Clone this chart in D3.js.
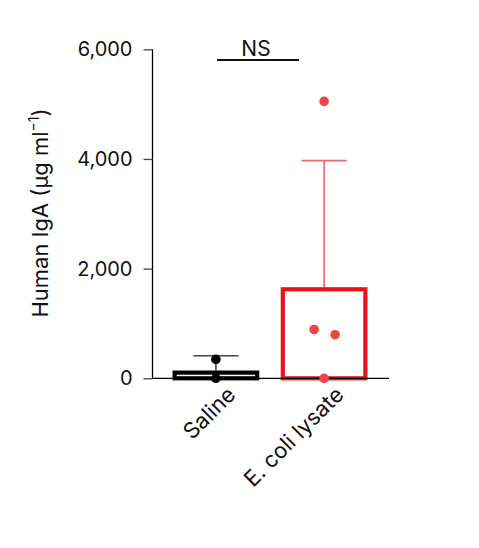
<!DOCTYPE html>
<html>
<head>
<meta charset="utf-8">
<script src="https://cdn.jsdelivr.net/npm/d3@7"></script>
<style>
  body { margin: 0; background: #fff; }
  text { font-family: Inter, "Noto Sans", sans-serif; }
</style>
</head>
<body>
<div id="chart"></div>
<script>
// chart values
const groups = ["Saline", "E. coli lysate"];
const means = [140, 1660];
const errTops = [410, 3970];
const points = [[345, 0], [5050, 890, 795, 0]];
const jitter = [[0, 0], [0, -10, 11, 0]];   // horizontal spread of dots (px)
const colors = ["#000000", "#e8141a"];
const dotColors = ["#000000", "#ee4448"];
const errColors = ["#444444", "#e46a6e"];
const yTicks = [0, 2000, 4000, 6000];

const W = 479, H = 548;
const svg = d3.select("#chart").append("svg")
    .attr("width", W).attr("height", H);

const x = d3.scaleBand()
    .domain(groups)
    .range([151, 389])
    .paddingInner(0.2)
    .paddingOuter(0.2);

const y = d3.scaleLinear()
    .domain([0, 6000])
    .range([378.3, 49.3]);

// y-axis
const yAxis = svg.append("g")
    .attr("transform", "translate(152.5,0)")
    .call(d3.axisLeft(y).tickValues(yTicks).tickSize(9).tickFormat(d3.format(",")));
yAxis.select(".domain").attr("stroke-width", 1.3).attr("d", `M0,${y(6000)}V${y(0)}`);
yAxis.selectAll(".tick line").attr("stroke-width", 1.3).attr("stroke", "#444");
yAxis.selectAll(".tick text").attr("x", -20).style("font-size", "20px").attr("fill", "#111");

// error bars (drawn first so bars sit on top)
groups.forEach((g, i) => {
    const cx = x(g) + x.bandwidth() / 2;
    svg.append("line")
        .attr("x1", cx).attr("x2", cx)
        .attr("y1", y(means[i])).attr("y2", y(errTops[i]))
        .attr("stroke", errColors[i]).attr("stroke-width", 1.6);
    svg.append("line")
        .attr("x1", cx - 22.5).attr("x2", cx + 22.5)
        .attr("y1", y(errTops[i])).attr("y2", y(errTops[i]))
        .attr("stroke", errColors[i]).attr("stroke-width", 1.6);
});

// bars
svg.selectAll("rect.bar")
    .data(groups)
    .enter()
    .append("rect")
    .attr("class", "bar")
    .attr("x", d => x(d) + 2)
    .attr("width", x.bandwidth() - 4)
    .attr("y", (d, i) => y(means[i]) + 2)
    .attr("height", (d, i) => y(0) - y(means[i]) - 2)
    .attr("fill", "none")
    .attr("stroke", (d, i) => colors[i])
    .attr("stroke-width", 4.2);

// x-axis
const xAxis = svg.append("g")
    .attr("transform", `translate(0,${y(0)})`)
    .call(d3.axisBottom(x).tickSize(5).tickSizeOuter(0));
xAxis.select(".domain").attr("stroke-width", 1.3).attr("d", "M152,0H389");
xAxis.selectAll(".tick line").attr("stroke", "#666");
xAxis.selectAll(".tick text")
    .style("font-size", "22px")
    .attr("fill", "#111")
    .style("text-anchor", "end")
    .attr("dx", "0.1em")
    .attr("dy", "0.7em")
    .attr("y", 12)
    .attr("transform", "rotate(-45)");

// data points
groups.forEach((g, i) => {
    const cx = x(g) + x.bandwidth() / 2;
    svg.selectAll(null)
        .data(points[i])
        .enter()
        .append("circle")
        .attr("cx", (d, j) => cx + jitter[i][j])
        .attr("cy", d => y(d))
        .attr("r", 4.8)
        .attr("fill", dotColors[i]);
});

// significance
svg.append("line")
    .attr("x1", 217).attr("x2", 299)
    .attr("y1", 60).attr("y2", 60)
    .attr("stroke", "#111").attr("stroke-width", 1.8);
svg.append("text")
    .attr("x", 256).attr("y", 56)
    .attr("text-anchor", "middle")
    .style("font-size", "21px")
    .attr("fill", "#111")
    .text("NS");

// y title
const yt = svg.append("text")
    .attr("transform", "translate(48,213) rotate(-90)")
    .attr("text-anchor", "middle")
    .style("font-size", "22px")
    .attr("fill", "#111");
yt.append("tspan").text("Human IgA (µg ml");
yt.append("tspan").attr("dy", -9).style("font-size", "14px").text("−1");
yt.append("tspan").attr("dy", 9).text(")");
</script>
</body>
</html>
